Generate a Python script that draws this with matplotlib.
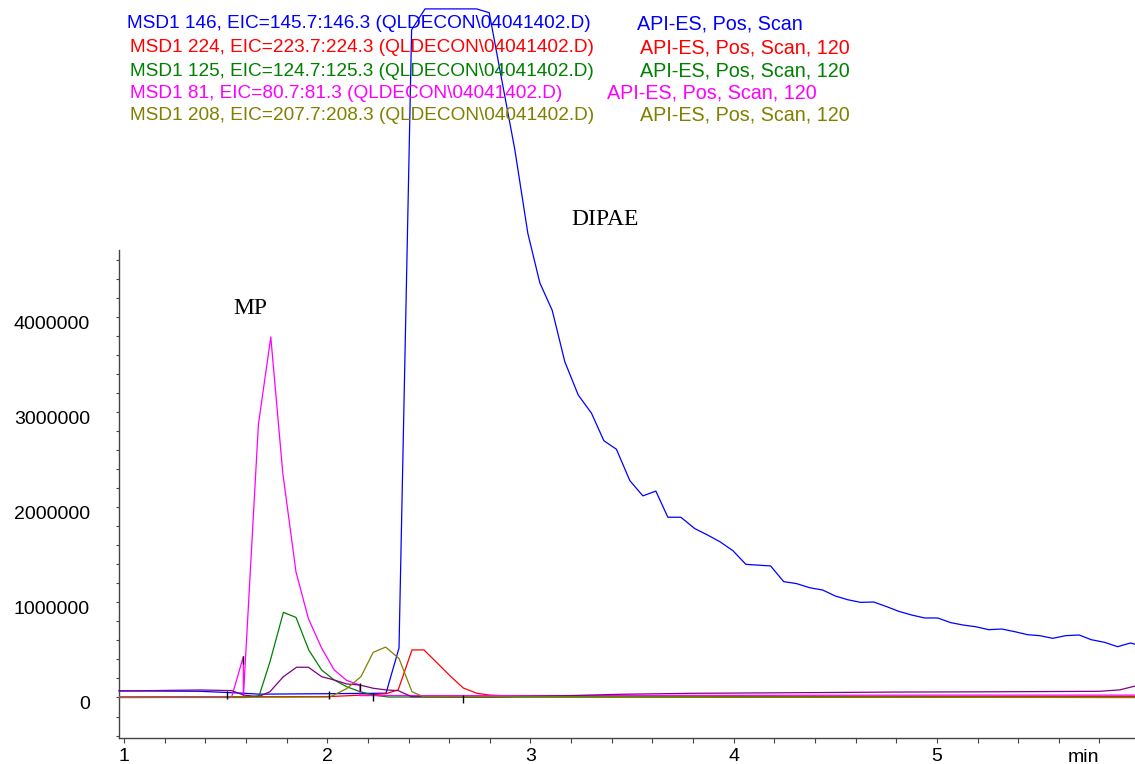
"""
EIC overlay chromatogram (MP / DIPAE)
"""

import numpy as np
import matplotlib
matplotlib.use('Agg')
import matplotlib.pyplot as plt
import matplotlib.transforms as mtransforms
from matplotlib.ticker import MultipleLocator, FuncFormatter

# retention time [min] / abundance [1e6 counts]
blue_t = [0.975, 1.374, 1.585, 1.664, 2.013, 2.289, 2.353, 2.415, 2.481, 2.735,
          2.797, 2.859, 2.923, 2.987, 3.046, 3.107, 3.169, 3.235, 3.300, 3.361,
          3.423, 3.489, 3.553, 3.617, 3.676, 3.740, 3.809, 3.870, 3.932, 3.996,
          4.060, 4.182, 4.246, 4.310, 4.374, 4.438, 4.500, 4.561, 4.625, 4.689,
          4.753, 4.812, 4.876, 4.940, 5.004, 5.068, 5.129, 5.191, 5.255, 5.319,
          5.383, 5.447, 5.506, 5.570, 5.634, 5.700, 5.759, 5.825, 5.889, 5.953,
          5.975]
blue_v = [0.07, 0.065, 0.045, 0.035, 0.04, 0.045, 0.52, 7.02, 7.24, 7.24,
          7.20, 6.49, 5.76, 4.88, 4.36, 4.07, 3.53, 3.18, 2.99, 2.70,
          2.61, 2.28, 2.12, 2.17, 1.895, 1.895, 1.775, 1.71, 1.638, 1.544,
          1.40, 1.383, 1.218, 1.197, 1.154, 1.13, 1.067, 1.028, 1.0, 1.004,
          0.955, 0.906, 0.867, 0.836, 0.836, 0.787, 0.762, 0.744, 0.713, 0.72,
          0.692, 0.66, 0.65, 0.622, 0.65, 0.657, 0.608, 0.58, 0.534, 0.573,
          0.56]

red_t = [0.975, 2.013, 2.225, 2.289, 2.349, 2.417, 2.476, 2.542, 2.608, 2.669,
         2.735, 2.800, 2.900, 3.5, 4.5, 5.975]
red_v = [0.005, 0.01, 0.03, 0.04, 0.08, 0.50, 0.50, 0.36, 0.22, 0.10,
         0.045, 0.025, 0.015, 0.012, 0.012, 0.012]

green_t = [0.975, 1.60, 1.665, 1.718, 1.784, 1.846, 1.909, 1.972, 2.034, 2.095,
           2.161, 2.226, 2.30, 5.975]
green_v = [0.0, 0.0, 0.02, 0.376, 0.895, 0.842, 0.499, 0.289, 0.184, 0.114,
           0.061, 0.026, 0.005, 0.0]

mag_t = [0.975, 1.53, 1.587, 1.587, 1.661, 1.722, 1.781, 1.846, 1.907, 1.972,
         2.034, 2.095, 2.161, 2.161, 3.0, 4.0, 5.0, 5.975]
mag_v = [0.005, 0.01, 0.43, 0.0, 2.87, 3.79, 2.36, 1.32, 0.83, 0.52,
         0.29, 0.18, 0.13, 0.02, 0.02, 0.022, 0.025, 0.025]

pur_t = [0.975, 1.374, 1.530, 1.587, 1.661, 1.718, 1.784, 1.849, 1.907, 1.972,
         2.034, 2.095, 2.161, 2.226, 2.292, 2.349, 2.415, 2.8, 3.2, 3.45,
         3.8, 4.3, 4.8, 5.3, 5.8, 5.9, 5.975]
pur_v = [0.068, 0.079, 0.072, 0.026, 0.008, 0.061, 0.219, 0.318, 0.318, 0.219,
         0.184, 0.142, 0.131, 0.097, 0.079, 0.072, 0.008, 0.005, 0.02, 0.034,
         0.044, 0.05, 0.057, 0.06, 0.065, 0.08, 0.12]

olive_t = [0.975, 2.013, 2.097, 2.166, 2.226, 2.287, 2.353, 2.417, 2.471, 5.975]
olive_v = [0.0, 0.005, 0.095, 0.22, 0.475, 0.53, 0.41, 0.06, 0.01, 0.0]

# integration event marks
event_t = [1.505, 1.587, 2.010, 2.161, 2.226, 2.669]
event_v = [0.026, 0.39, 0.026, 0.11, 0.0, -0.02]

trace_names = ["MSD1 146, EIC=145.7:146.3 (QLDECON\\04041402.D)",
               "MSD1 224, EIC=223.7:224.3 (QLDECON\\04041402.D)",
               "MSD1 125, EIC=124.7:125.3 (QLDECON\\04041402.D)",
               "MSD1 81, EIC=80.7:81.3 (QLDECON\\04041402.D)",
               "MSD1 208, EIC=207.7:208.3 (QLDECON\\04041402.D)"]
scan_info = ["API-ES, Pos, Scan",
             "API-ES, Pos, Scan, 120",
             "API-ES, Pos, Scan, 120",
             "API-ES, Pos, Scan, 120",
             "API-ES, Pos, Scan, 120"]
trace_colors = ['#0000ff', '#ff0000', '#008000', '#ff00ff', '#808000']

W, H = 1135, 764
sans = ['Liberation Sans', 'DejaVu Sans']
serif = ['Liberation Serif', 'DejaVu Serif']

fig = plt.figure(figsize=(W / 100, H / 100), dpi=100)
ax = fig.add_axes([119 / W, 26 / H, 1016 / W, 488 / H])

lw = 0.9
ax.plot(blue_t, np.array(blue_v) * 1e6, color='#0000ff', lw=lw, clip_on=False, zorder=3)
ax.plot(red_t, np.array(red_v) * 1e6, color='#ff0000', lw=lw, zorder=3)
ax.plot(green_t, np.array(green_v) * 1e6, color='#008000', lw=lw, zorder=3)
ax.plot(mag_t, np.array(mag_v) * 1e6, color='#ff00ff', lw=lw, zorder=3)
ax.plot(pur_t, np.array(pur_v) * 1e6, color='#800080', lw=lw, zorder=3)
ax.plot(olive_t, np.array(olive_v) * 1e6, color='#808000', lw=lw, zorder=3)
ax.plot(event_t, np.array(event_v) * 1e6, ls='none', marker='|', ms=6,
        mew=1, color='k', zorder=4)

ax.set_xlim(0.975, 5.975)
ax.set_ylim(-0.426e6, 4.705e6)

for s in ['top', 'right']:
    ax.spines[s].set_visible(False)
for s in ['left', 'bottom']:
    ax.spines[s].set_color('#444444')
    ax.spines[s].set_linewidth(1.0)

ax.xaxis.set_major_locator(MultipleLocator(1))
ax.xaxis.set_minor_locator(MultipleLocator(0.2))
ax.yaxis.set_major_locator(MultipleLocator(1e6))
ax.yaxis.set_minor_locator(MultipleLocator(2e5))
ax.xaxis.set_major_formatter(FuncFormatter(lambda v, p: '%d' % round(v)))
ax.yaxis.set_major_formatter(FuncFormatter(lambda v, p: '%d' % round(v)))

ax.tick_params(axis='x', which='both', direction='out', length=3.5, width=0.8,
               color='#444444', pad=3.5, labelsize=14)
ax.tick_params(axis='y', which='both', direction='out', length=2.5, width=0.8,
               color='#444444', pad=18.4, labelsize=14)
for lbl in ax.get_xticklabels() + ax.get_yticklabels():
    lbl.set_family(sans)

# y labels sit a little below their ticks in the original
offset = mtransforms.ScaledTranslation(0, -5 / 100, fig.dpi_scale_trans)
for lbl in ax.get_yticklabels():
    lbl.set_transform(lbl.get_transform() + offset)

fig.text(1083 / W, 1 - 762 / H, 'min', ha='center', va='baseline',
         fontsize=14, family=sans)

# trace header
rows_y = [24, 47.5, 71, 93, 115]
left_x = [127, 130, 130, 130, 130]
info_x = [637, 640, 640, 607, 640]
for name, info, c, yy, x0, x1 in zip(trace_names, scan_info, trace_colors,
                                      rows_y, left_x, info_x):
    fig.text(x0 / W, 1 - yy / H, name, color=c, fontsize=13.7, family=sans,
             ha='left', va='center', zorder=1)
    fig.text(x1 / W, 1 - yy / H, info, color=c, fontsize=14.2, family=sans,
             ha='left', va='center', zorder=1)

# peak names
ax.text(1.62, 4.03e6, 'MP', ha='center', va='baseline', fontsize=17, family=serif)
ax.text(3.366, 4.97e6, 'DIPAE', ha='center', va='baseline', fontsize=17, family=serif)

plt.savefig('out.png', dpi=100)
